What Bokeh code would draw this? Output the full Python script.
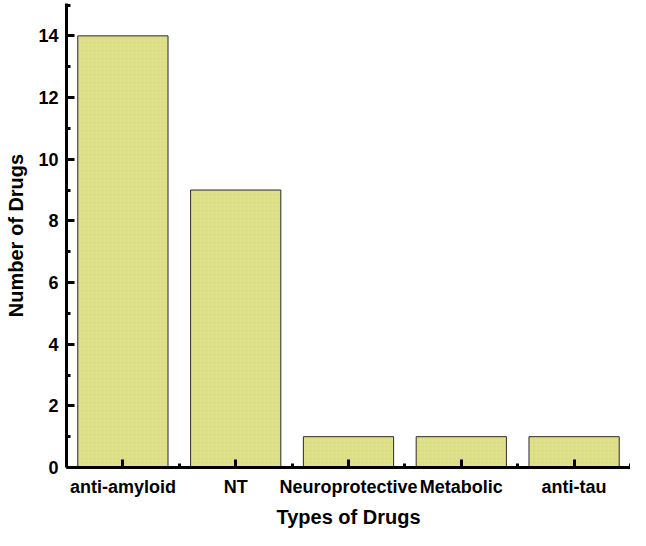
from bokeh.plotting import figure
from bokeh.models import FixedTicker, ColumnDataSource, Range1d
from bokeh.embed import file_html
from bokeh.resources import INLINE

categories = ["anti-amyloid", "NT", "Neuroprotective", "Metabolic", "anti-tau"]
counts = [14, 9, 1, 1, 1]
y_ticks = [0, 2, 4, 6, 8, 10, 12, 14]
y_minor = [1, 3, 5, 7, 9, 11, 13, 15]
x_title = "Types of Drugs"
y_title = "Number of Drugs"

xs = list(range(len(categories)))
src = ColumnDataSource(dict(x=xs, top=counts, name=categories))

p = figure(width=630, height=530, output_backend="svg", toolbar_location=None,
           x_range=Range1d(-0.5, len(categories) - 0.5), y_range=Range1d(0, 15.05),
           min_border_left=66, min_border_right=0, min_border_top=3, min_border_bottom=62)

p.vbar(x="x", top="top", width=0.8, bottom=0, source=src,
       fill_color="#dfe08a", line_color="#2b2b2b", line_width=1,
       hatch_pattern="dot", hatch_color="#c8c870", hatch_alpha=0.35, hatch_scale=4)

p.outline_line_color = None
p.xgrid.visible = False
p.ygrid.visible = False
p.background_fill_color = "white"

font = "Liberation Sans"

xa = p.xaxis[0]
xa.ticker = FixedTicker(ticks=xs, minor_ticks=[i + 0.5 for i in xs])
xa.major_label_overrides = {i: c for i, c in zip(xs, categories)}
xa.axis_label = x_title

ya = p.yaxis[0]
ya.ticker = FixedTicker(ticks=y_ticks, minor_ticks=y_minor)
ya.axis_label = y_title

for ax in (xa, ya):
    ax.axis_line_width = 3
    ax.axis_line_color = "black"
    ax.major_tick_line_width = 3
    ax.major_tick_line_color = "black"
    ax.minor_tick_line_width = 3
    ax.minor_tick_line_color = "black"
    ax.major_tick_in = 8
    ax.major_tick_out = 0
    ax.minor_tick_in = 4
    ax.minor_tick_out = 0
    ax.major_label_text_font = font
    ax.major_label_text_font_style = "bold"
    ax.major_label_text_font_size = "18px"
    ax.major_label_text_color = "black"
    ax.axis_label_text_font = font
    ax.axis_label_text_font_style = "bold"
    ax.axis_label_text_font_size = "20px"
    ax.axis_label_text_color = "black"

xa.major_label_standoff = 9
xa.axis_label_standoff = 6
ya.major_label_standoff = 8
ya.axis_label_standoff = 8

open("out.html", "w").write(file_html(p, INLINE))
